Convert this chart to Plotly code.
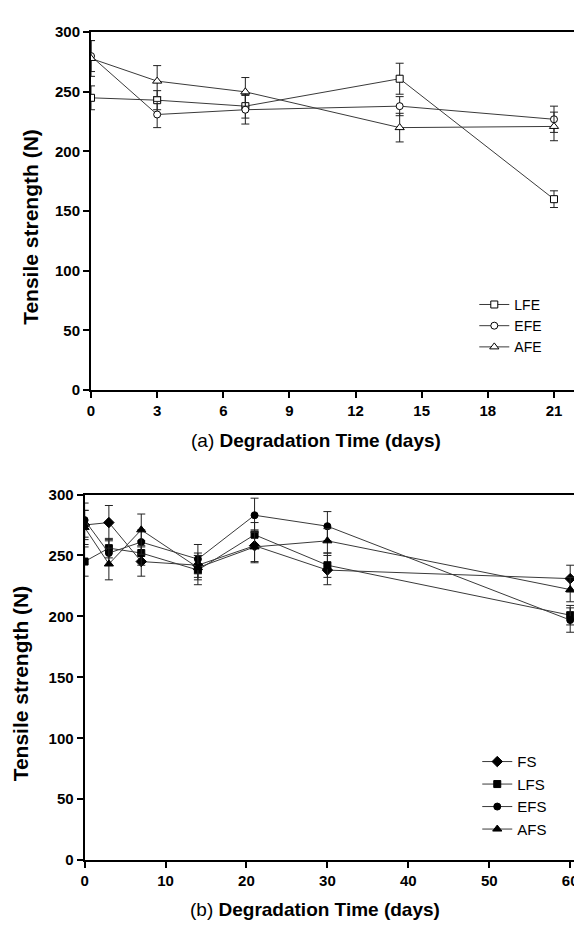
import plotly.graph_objects as go

# ---- data: chart (a) ----
days_a = [0, 3, 7, 14, 21]
lfe = [245, 243, 238, 261, 160]
lfe_err = [10, 8, 10, 13, 7]
efe = [280, 231, 235, 238, 227]
efe_err = [13, 11, 12, 8, 11]
afe = [278, 259, 250, 220, 221]
afe_err = [15, 13, 12, 12, 12]

# ---- data: chart (b) ----
days_b = [0, 3, 7, 14, 21, 30, 60]
fs = [275, 277, 245, 242, 258, 238, 231]
fs_err = [12, 14, 12, 10, 13, 12, 11]
lfs = [245, 256, 252, 238, 267, 242, 201]
lfs_err = [12, 8, 10, 12, 10, 10, 8]
efs = [279, 252, 261, 247, 283, 274, 197]
efs_err = [14, 10, 10, 12, 14, 12, 10]
afs = [273, 243, 271, 240, 257, 262, 222]
afs_err = [14, 13, 13, 10, 13, 10, 10]

xticks_a = [0, 3, 6, 9, 12, 15, 18, 21]
xticks_b = [0, 10, 20, 30, 40, 50, 60]
yticks = [0, 50, 100, 150, 200, 250, 300]

FONT = "Arial, Liberation Sans, sans-serif"
LINE = "#3a3a3a"

# the page body has an 8px margin; the figure is sized and placed to fit the window
OFF = 8
W, H = 582 - OFF, 929 - OFF

def px_x(p):
    return (p - OFF) / W

def px_y(p):
    return 1 - (p - OFF) / H

fig = go.Figure()

def add(x, y, e, name, symbol, filled, xa, ya, legend, size):
    fig.add_trace(go.Scatter(
        x=x, y=y, name=name, mode="lines+markers",
        xaxis=xa, yaxis=ya, legend=legend,
        line=dict(color=LINE, width=1),
        marker=dict(symbol=symbol, size=size,
                    color="black" if filled else "white",
                    line=dict(color="black", width=1)),
        error_y=dict(type="data", array=e, visible=True,
                     color="#222", thickness=1, width=4),
    ))

add(days_a, lfe, lfe_err, "LFE", "square", False, "x", "y", "legend", 7)
add(days_a, efe, efe_err, "EFE", "circle", False, "x", "y", "legend", 7)
add(days_a, afe, afe_err, "AFE", "triangle-up", False, "x", "y", "legend", 8)

add(days_b, fs, fs_err, "FS", "diamond", True, "x2", "y2", "legend2", 8)
add(days_b, lfs, lfs_err, "LFS", "square", True, "x2", "y2", "legend2", 7)
add(days_b, efs, efs_err, "EFS", "circle", True, "x2", "y2", "legend2", 7)
add(days_b, afs, afs_err, "AFS", "triangle-up", True, "x2", "y2", "legend2", 8)

axis_common = dict(
    showline=True, linecolor="black", linewidth=2, mirror=True,
    ticks="outside", ticklen=6, tickwidth=2, tickcolor="black",
    showgrid=False, zeroline=False,
    tickfont=dict(family=FONT, size=15, color="black", weight="bold"),
)

fig.update_layout(
    width=W, height=H,
    margin=dict(l=0, r=0, t=0, b=0),
    paper_bgcolor="white", plot_bgcolor="white",
    font=dict(family=FONT, color="black"),
    xaxis=dict(domain=[px_x(88), px_x(579)], anchor="y", range=[0, 22],
               tickvals=xticks_a, **axis_common),
    yaxis=dict(domain=[px_y(388), px_y(23.5)], anchor="x", range=[0, 300],
               tickvals=yticks, **axis_common),
    xaxis2=dict(domain=[px_x(81.5), px_x(578)], anchor="y2", range=[0, 60.6],
                tickvals=xticks_b, **axis_common),
    yaxis2=dict(domain=[px_y(867), px_y(494.5)], anchor="x2", range=[0, 300],
                tickvals=yticks, **axis_common),
    legend=dict(x=px_x(476), y=px_y(285), xanchor="left", yanchor="top",
                bgcolor="rgba(0,0,0,0)", font=dict(family=FONT, size=14, color="black"),
                tracegroupgap=0),
    legend2=dict(x=px_x(479), y=px_y(750), xanchor="left", yanchor="top",
                 bgcolor="rgba(0,0,0,0)", font=dict(family=FONT, size=15, color="black"),
                 tracegroupgap=0),
    showlegend=True,
)

ann = [
    dict(text="<b>Tensile strength (N)</b>", x=px_x(26), y=px_y(222), textangle=-90,
         font=dict(family=FONT, size=21, color="black")),
    dict(text="<b>Tensile strength (N)</b>", x=px_x(17), y=px_y(687), textangle=-90,
         font=dict(family=FONT, size=21, color="black")),
    dict(text="(a) <b>Degradation Time (days)</b>", x=px_x(316), y=px_y(439),
         font=dict(family=FONT, size=19, color="black")),
    dict(text="(b) <b>Degradation Time (days)</b>", x=px_x(315), y=px_y(917),
         font=dict(family=FONT, size=19, color="black")),
]
for a in ann:
    a.update(xref="paper", yref="paper", showarrow=False,
             xanchor="center", yanchor="middle")
fig.update_layout(annotations=ann)

fig.write_html("out.html")
